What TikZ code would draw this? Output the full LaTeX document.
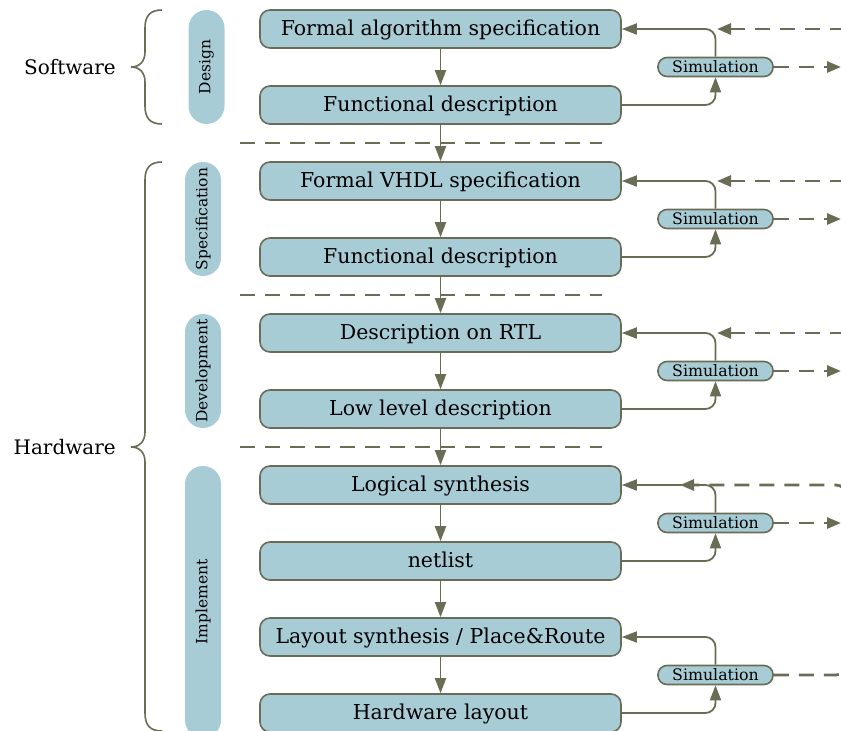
\documentclass[tikz,border=0pt]{standalone}
\usepackage{fontspec}
\setmainfont{DejaVu Serif}
\usetikzlibrary{arrows.meta}
\definecolor{ink}{HTML}{6A6C56}
\definecolor{paleblue}{HTML}{A8CCD6}

\begin{document}
\begin{tikzpicture}[x=1pt,y=-1pt,
  stage/.style={draw=ink, line width=1.6pt, fill=paleblue, rounded corners=10pt,
    minimum width=361pt, minimum height=38pt, inner sep=0pt,
    text height=17pt, text depth=4pt,
    font=\fontsize{20.5}{24}\selectfont},
  simbox/.style={draw=ink, line width=1.6pt, fill=paleblue, rounded corners=9pt,
    minimum width=115pt, minimum height=19pt, inner sep=0pt,
    font=\fontsize{15.8}{17}\selectfont},
  phase/.style={fill=paleblue, rounded corners=18pt, rotate=90, inner sep=0pt,
    minimum height=36pt, font=\fontsize{15.5}{17}\selectfont},
  side/.style={anchor=east, inner sep=0pt, font=\fontsize{20}{24}\selectfont},
  tip/.style={-{Triangle[length=15pt,width=11pt]}},
  flow/.style={draw=ink, line width=1.8pt, tip},
  loop/.style={draw=ink, line width=1.8pt, tip, rounded corners=10pt},
  outer/.style={draw=ink, line width=2.8pt, dash pattern=on 15pt off 10pt,
    -{Triangle[length=14pt,width=11pt]}, rounded corners=10pt},
  split/.style={draw=ink, line width=2.8pt, dash pattern=on 15pt off 10pt},
  bracket/.style={draw=ink, line width=1.6pt}]

\useasboundingbox (0,0) rectangle (841,731);
\clip (0,0) rectangle (841,731);

% phase pills on the left
\node[phase, minimum width=114pt] (pDesign) at (206.5,67)  {Design};
\node[phase, minimum width=114pt] (pSpec)   at (203,219)   {Specification};
\node[phase, minimum width=114pt] (pDev)    at (203,371)   {Development};
\node[phase, minimum width=272pt] (pImpl)   at (203,602)   {Implement};

% braces and their labels
\draw[bracket] (162,10) .. controls (150,10) and (145,16) .. (145,28) -- (145,52)
  .. controls (145,61) and (140,67) .. (131,67)
  .. controls (140,67) and (145,73) .. (145,82) -- (145,106)
  .. controls (145,118) and (150,124) .. (162,124);
\draw[bracket] (162,162) .. controls (150,162) and (145,168) .. (145,180) -- (145,432)
  .. controls (145,441) and (140,447) .. (131,447)
  .. controls (140,447) and (145,453) .. (145,462) -- (145,713)
  .. controls (145,725) and (150,731) .. (162,731);
\node[side] (lSoft) at (116,67)  {Software};
\node[side] (lHard) at (116,447) {Hardware};

% stages
\node[stage] (b1)  at (440.5,29)  {Formal algorithm specification};
\node[stage] (b2)  at (440.5,105) {Functional description};
\node[stage] (b3)  at (440.5,181) {Formal VHDL specification};
\node[stage] (b4)  at (440.5,257) {Functional description};
\node[stage] (b5)  at (440.5,333) {Description on RTL};
\node[stage] (b6)  at (440.5,409) {Low level description};
\node[stage] (b7)  at (440.5,485) {Logical synthesis};
\node[stage] (b8)  at (440.5,561) {netlist};
\node[stage] (b9)  at (440.5,637) {Layout synthesis / Place\&Route};
\node[stage] (b10) at (440.5,713) {Hardware layout};

% simulation nodes
\node[simbox] (s1) at (715.5,67)  {Simulation};
\node[simbox] (s2) at (715.5,219) {Simulation};
\node[simbox] (s3) at (715.5,371) {Simulation};
\node[simbox] (s4) at (715.5,523) {Simulation};
\node[simbox] (s5) at (715.5,675) {Simulation};

% phase separators
\draw[split] (240,143) -- (602,143);
\draw[split] (240,295) -- (602,295);
\draw[split] (240,447) -- (602,447);

% main flow
\foreach \a/\b in {b1/b2,b2/b3,b3/b4,b4/b5,b5/b6,b6/b7,b7/b8,b8/b9,b9/b10}
  \draw[flow] (\a) -- (\b);

% simulation loops
\foreach \s/\u/\l in {s1/b1/b2,s2/b3/b4,s3/b5/b6,s4/b7/b8,s5/b9/b10}{
  \draw[loop] (\s.north) |- (\u.east);
  \draw[loop] (\l.east) -| (\s.south);
}

% links to the outside
\coordinate (r1) at (870,29);
\coordinate (r2) at (870,181);
\coordinate (r3) at (870,333);
\coordinate (e1) at (841,67);
\coordinate (e2) at (841,219);
\coordinate (e3) at (841,371);
\coordinate (e4) at (841,523);
\coordinate (k1) at (680,485);
\coordinate (k2) at (846,675);
\draw[outer] (r1) -- (717,29);
\draw[outer] (r2) -- (717,181);
\draw[outer] (r3) -- (717,333);
\draw[outer] (s1.east) -- (e1);
\draw[outer] (s2.east) -- (e2);
\draw[outer] (s3.east) -- (e3);
\draw[outer] (s4.east) -- (e4);
\draw[outer] (s5.east) -- (k2) |- (k1);
\end{tikzpicture}
\end{document}
